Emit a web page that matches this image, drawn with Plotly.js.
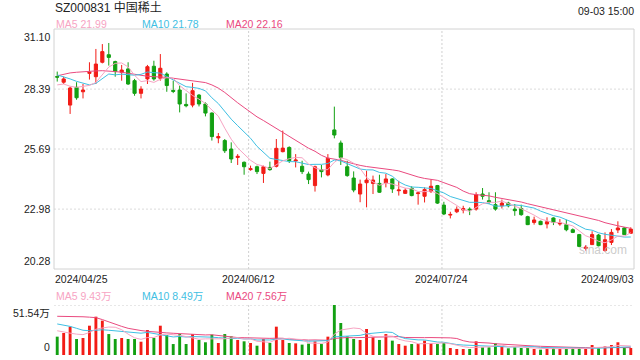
<!DOCTYPE html>
<html><head><meta charset="utf-8">
<script src="https://cdn.plot.ly/plotly-3.0.1.min.js"></script>
<style>html,body{margin:0;padding:0;background:#fff}#chart{width:640px;height:360px}</style>
</head><body><div id="chart"></div>
<script>
// ---------------- data ----------------
const stockTitle = 'SZ000831 中国稀土';
const stampText = '09-03 15:00';
const dateLabels = ['2024/04/25', '2024/06/12', '2024/07/24', '2024/09/03'];
const dateTickIdx = [0, 30, 60, 89];
const priceTicks = [31.10, 28.39, 25.69, 22.98, 20.28];
const priceTickText = ['31.10', '28.39', '25.69', '22.98', '20.28'];
const volTicks = [51.54, 0];
const volTickText = ['51.54万', '0'];
const priceLegend = [['MA5', '21.99'], ['MA10', '21.78'], ['MA20', '22.16']];
const volLegend = [['MA5', '9.43万'], ['MA10', '8.49万'], ['MA20', '7.56万']];

const openP = [28.96,28.70,27.67,28.47,28.27,29.10,28.95,29.60,29.94,29.63,
 29.15,29.30,28.77,28.20,28.85,29.42,28.88,29.07,28.33,28.35,
 27.70,27.67,28.12,27.72,27.31,26.19,26.07,25.69,25.31,25.09,
 24.76,24.89,24.59,24.86,24.91,25.57,25.76,25.15,24.91,24.56,
 24.04,24.76,24.52,26.55,25.96,24.89,24.38,23.66,24.17,24.14,
 24.14,24.16,24.34,23.81,23.69,23.92,23.68,23.56,23.77,24.04,
 23.16,22.71,22.86,22.94,22.98,22.98,23.66,23.36,23.18,23.13,
 23.25,22.98,23.01,22.64,22.38,22.43,22.31,22.58,22.31,22.28,
 22.05,21.83,21.21,21.38,21.81,21.11,21.48,22.04,22.13,21.89];
const highP = [29.18,28.95,28.50,28.70,28.62,29.60,30.20,30.42,30.47,29.67,
 29.48,29.60,28.85,28.52,29.48,29.67,29.97,29.15,28.77,28.55,
 28.20,28.67,28.17,27.79,27.34,26.41,26.14,25.99,25.46,25.13,
 24.94,24.94,24.94,25.12,26.14,26.52,25.81,25.46,25.16,24.67,
 24.94,24.97,25.46,27.60,26.07,25.16,24.68,24.31,24.71,24.49,
 24.53,24.56,24.37,24.26,23.92,24.01,23.77,23.96,24.31,24.07,
 23.31,22.86,23.10,23.13,23.06,23.74,23.93,23.74,23.74,23.41,
 23.31,23.21,23.18,22.68,22.64,22.46,22.61,22.61,22.53,22.50,
 22.11,21.86,21.36,21.98,21.86,21.93,22.08,22.43,22.16,22.16];
const lowP = [28.73,28.62,27.27,27.91,27.97,28.82,28.62,29.55,29.45,28.95,
 28.77,28.58,28.09,27.97,28.62,28.77,28.77,28.27,28.21,27.34,
 27.57,27.57,27.61,27.16,26.07,25.95,25.51,25.06,24.97,24.53,
 24.71,24.56,24.16,24.71,24.86,25.54,25.06,24.86,24.56,24.11,
 23.77,24.41,24.46,26.17,24.97,24.44,23.74,23.29,23.06,23.66,
 23.71,23.96,23.71,23.59,23.66,23.56,23.18,23.28,23.71,23.21,
 22.71,22.56,22.80,22.79,22.71,22.91,23.41,23.21,22.91,23.01,
 23.06,22.68,22.68,22.26,22.28,22.26,22.11,22.26,22.23,21.98,
 21.90,21.26,21.11,21.36,21.30,21.06,21.36,21.90,21.81,21.86];
const closeP = [28.93,28.85,28.44,28.00,28.35,29.15,29.52,30.08,29.82,29.18,
 29.25,28.62,28.20,28.39,29.40,28.85,29.33,28.55,28.29,27.72,
 27.64,28.32,27.72,27.31,26.25,26.25,25.61,25.24,25.36,24.89,
 24.80,24.67,24.89,24.76,25.72,25.73,25.16,25.19,24.67,24.31,
 24.89,24.67,25.27,26.32,25.31,24.49,23.84,24.11,24.29,24.29,
 23.74,24.34,23.89,23.84,23.83,23.59,23.71,23.86,24.01,23.25,
 22.76,22.74,22.97,23.01,22.94,23.63,23.56,23.30,22.98,23.25,
 23.13,22.91,22.73,22.28,22.49,22.28,22.41,22.38,22.35,22.05,
 21.93,21.30,21.26,21.83,21.33,21.60,21.93,22.13,21.83,22.08];
// volume in 万
const volume = [18.9,22.7,29.2,16.5,17.5,30.2,39.5,35.4,21.6,16.5,
 17.5,16.5,16.5,13.7,25.8,17.5,30.2,20.6,11.3,21.6,
 11.3,21.6,15.5,13.1,21.0,12.4,21.6,19.2,15.5,14.1,
 12.4,9.6,16.5,12.4,29.2,15.5,12.4,12.0,10.7,11.7,
 14.1,11.3,18.9,51.54,33.0,19.2,16.5,15.5,26.8,18.2,
 15.5,21.6,14.8,11.3,9.6,11.3,11.3,14.8,12.4,11.3,
 12.4,7.2,6.2,6.2,6.2,14.1,7.9,7.9,12.0,8.6,
 6.9,7.9,7.2,7.2,6.2,5.5,6.9,6.9,6.2,6.2,
 6.9,7.9,6.2,10.3,6.9,8.9,10.3,13.1,7.2,7.2];
// moving-average values for the first days (window not yet full)
const ma5Head = [28.58, 28.62, 28.52, 28.47];
const ma10Head = [29.03, 28.95, 28.85, 28.74, 28.65, 28.58, 28.65, 28.85, 29.07];
const ma20Head = [28.99, 29.06, 29.12, 29.15, 29.18, 29.19, 29.21, 29.22, 29.21, 29.18,
 29.15, 29.10, 29.04, 28.99, 28.97, 28.95, 28.94, 28.92, 28.88];
const vma5Head = [25.0, 23.5, 22.5, 21.5];
const vma10Head = [32.0, 31.0, 29.5, 27.5, 25.5, 25.0, 25.5, 26.0, 25.5];
const vma20Head = [39.9, 39.9, 39.8, 39.6, 39.4, 39.0, 38.5, 36.5, 34.0, 31.5,
 29.5, 27.5, 26.2, 25.2, 24.4, 23.7, 23.2, 22.8, 22.4];

// ---------------- style ----------------
const W = 640, H = 360;
const X0 = 54, X1 = 634, P_TOP = 29, P_BOT = 269, V_TOP = 305, V_BOT = 355;
const RED = '#f21c16', GREEN = '#12a012';
const C5 = '#f7a4c3', C10 = '#3fc0e3', C20 = '#ea4a7f';
const FONT = 'Liberation Sans, Arial, "Noto Sans CJK SC", sans-serif';
const px = x => x / W, py = y => 1 - y / H;

function movingAvg(arr, n, head) {
  return arr.map((v, i) => {
    if (i < n - 1) return head[i];
    let s = 0; for (let k = i - n + 1; k <= i; k++) s += arr[k];
    return s / n;
  });
}
const idx = closeP.map((_, i) => i);
const up = closeP.map((c, i) => c >= openP[i]);

const traces = [
  { type: 'candlestick', x: idx, open: openP, high: highP, low: lowP, close: closeP,
    xaxis: 'x', yaxis: 'y', whiskerwidth: 0, hoverinfo: 'skip',
    increasing: { line: { color: RED, width: 1 }, fillcolor: RED },
    decreasing: { line: { color: GREEN, width: 1 }, fillcolor: GREEN } },
  { type: 'scatter', mode: 'lines', x: idx, y: movingAvg(closeP, 20, ma20Head), line: { color: C20, width: 1 }, hoverinfo: 'skip' },
  { type: 'scatter', mode: 'lines', x: idx, y: movingAvg(closeP, 10, ma10Head), line: { color: C10, width: 1 }, hoverinfo: 'skip' },
  { type: 'scatter', mode: 'lines', x: idx, y: movingAvg(closeP, 5, ma5Head), line: { color: C5, width: 1 }, hoverinfo: 'skip' },
  { type: 'bar', x: idx, y: volume, yaxis: 'y2', width: 0.45, hoverinfo: 'skip',
    marker: { color: up.map(u => u ? RED : GREEN), line: { width: 0 } } },
  { type: 'scatter', mode: 'lines', x: idx, y: movingAvg(volume, 20, vma20Head), yaxis: 'y2', line: { color: C20, width: 1 }, hoverinfo: 'skip' },
  { type: 'scatter', mode: 'lines', x: idx, y: movingAvg(volume, 10, vma10Head), yaxis: 'y2', line: { color: C10, width: 1 }, hoverinfo: 'skip' },
  { type: 'scatter', mode: 'lines', x: idx, y: movingAvg(volume, 5, vma5Head), yaxis: 'y2', line: { color: C5, width: 1 }, hoverinfo: 'skip' }
];

const ann = [];
function txt(text, x, y, xa, ya, size, color, extra) {
  ann.push(Object.assign({ text, x, y, xref: 'paper', yref: 'paper', xanchor: xa, yanchor: ya,
    showarrow: false, borderpad: 0, font: { family: FONT, size, color } }, extra || {}));
}
txt(stockTitle, px(54), py(7), 'left', 'middle', 12, '#222');
txt(stampText, px(635), py(11), 'right', 'middle', 10.5, '#222');
const legX = [55, 141, 225], legCol = [C5, C10, C20];
priceLegend.forEach((l, i) => txt(l[0] + ' ' + l[1], px(legX[i]), py(24), 'left', 'middle', 10.5, legCol[i]));
volLegend.forEach((l, i) => txt(l[0] + ' ' + l[1], px(legX[i]), py(295.5), 'left', 'middle', 10.5, legCol[i]));
// price axis labels
priceTicks.forEach((v, i) => {
  const ya = i === 0 ? 'top' : (i === priceTicks.length - 1 ? 'bottom' : 'middle');
  const yy = i === 0 ? py(P_TOP + 1) : (i === priceTicks.length - 1 ? py(P_BOT - 1) : v);
  ann.push({ text: priceTickText[i], x: px(51), y: yy, xref: 'paper', yref: (ya === 'middle' ? 'y' : 'paper'),
    xanchor: 'right', yanchor: ya, showarrow: false, borderpad: 0, font: { family: FONT, size: 10.5, color: '#222' } });
});
txt(volTickText[0], px(51), py(V_TOP + 1), 'right', 'top', 10.5, '#222');
txt(volTickText[1], px(51), py(V_BOT - 1), 'right', 'bottom', 10.5, '#222');
// date labels
dateLabels.forEach((d, i) => {
  const last = i === dateLabels.length - 1;
  ann.push({ text: d, x: i === 0 ? px(54) : (last ? px(635) : dateTickIdx[i] - 0.3), xref: i === 0 || last ? 'paper' : 'x',
    y: py(278.5), yref: 'paper', xanchor: i === 0 ? 'left' : (last ? 'right' : 'center'), yanchor: 'middle',
    showarrow: false, borderpad: 0, font: { family: FONT, size: 10.5, color: '#222' } });
});
// watermark
txt('sina.com', px(603), py(250), 'center', 'middle', 12, 'rgba(190,190,190,0.8)');

const shapes = [];
// horizontal dotted grid in price panel
priceTicks.slice(1, -1).forEach(v => shapes.push({ type: 'line', xref: 'paper', yref: 'y', x0: px(X0), x1: px(X1), y0: v, y1: v,
  line: { color: '#dcdcdc', width: 1, dash: '2px,2px' }, layer: 'below' }));
// vertical dotted lines at date ticks
dateTickIdx.slice(1, -1).forEach(i => {
  shapes.push({ type: 'line', xref: 'x', yref: 'paper', x0: i - 0.3, x1: i - 0.3, y0: py(P_BOT), y1: py(P_TOP),
    line: { color: '#d0d0d0', width: 1, dash: '2px,2px' }, layer: 'below' });
  shapes.push({ type: 'line', xref: 'x', yref: 'paper', x0: i - 0.3, x1: i - 0.3, y0: py(V_BOT), y1: py(V_TOP),
    line: { color: '#d0d0d0', width: 1, dash: '2px,2px' }, layer: 'below' });
});
// volume top dotted line
shapes.push({ type: 'line', xref: 'paper', yref: 'y2', x0: px(X0), x1: px(X1), y0: volTicks[0], y1: volTicks[0],
  line: { color: '#d0d0d0', width: 1, dash: '2px,2px' }, layer: 'below' });
// price panel frame
shapes.push({ type: 'rect', xref: 'paper', yref: 'paper', x0: px(X0), x1: px(X1), y0: py(P_BOT), y1: py(P_TOP),
  line: { color: '#d2d2d2', width: 1 }, fillcolor: 'rgba(0,0,0,0)', layer: 'below' });

const layout = {
  width: W, height: H, margin: { l: 0, r: 0, t: 0, b: 0 },
  paper_bgcolor: '#fff', plot_bgcolor: 'rgba(0,0,0,0)', showlegend: false,
  boxgap: 0.3,
  xaxis: { domain: [px(X0), px(X1)], range: [-0.5, idx.length - 0.5], showticklabels: false, showgrid: false,
    zeroline: false, showline: false, ticks: '', rangeslider: { visible: false }, fixedrange: true, anchor: 'y' },
  yaxis: { domain: [py(P_BOT), py(P_TOP)], range: [priceTicks[priceTicks.length - 1], priceTicks[0]],
    showticklabels: false, showgrid: false, zeroline: false, showline: false, ticks: '', fixedrange: true },
  yaxis2: { domain: [py(V_BOT), py(V_TOP)], range: [0, volTicks[0]], anchor: 'x',
    showticklabels: false, showgrid: false, zeroline: false, showline: false, ticks: '', fixedrange: true },
  annotations: ann, shapes: shapes
};
Plotly.newPlot('chart', traces, layout, { staticPlot: true, displayModeBar: false });
</script>
</body></html>
